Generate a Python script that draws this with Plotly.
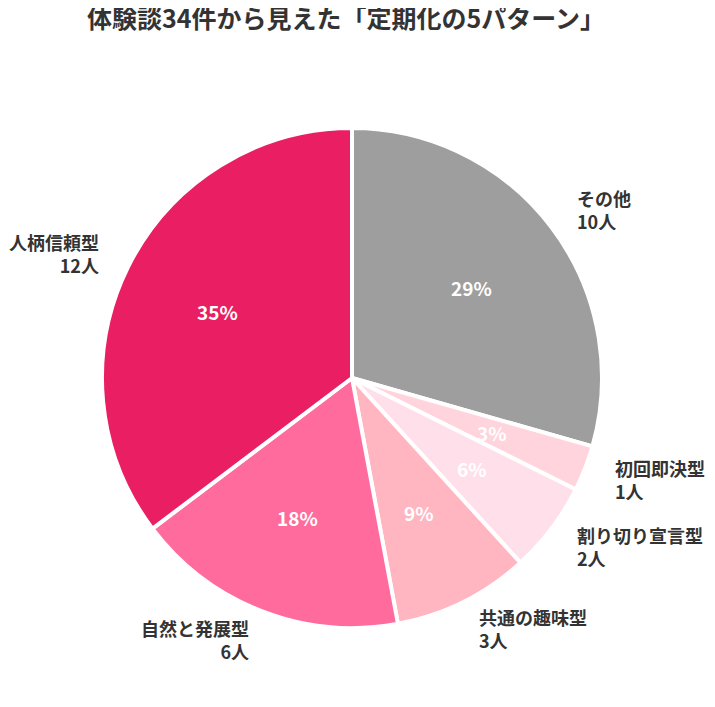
import math
import plotly.graph_objects as go

# パターン別の件数（体験談34件）
labels = ['その他', '初回即決型', '割り切り宣言型', '共通の趣味型', '自然と発展型', '人柄信頼型']
counts = [10, 1, 2, 3, 6, 12]
colors = ['#9E9E9E', '#FFD4DC', '#FFE0EA', '#FFB6C1', '#FF6B9D', '#E91E63']

title_text = '体験談34件から見えた「定期化の5パターン」'

FONT = 'Noto Sans CJK JP, Noto Sans, sans-serif'
W, H = 715, 707
# ページの余白(8px)の分だけずらしておく
cx, cy, r = 344, 370, 250

fig = go.Figure()

fig.add_trace(go.Pie(
    labels=labels, values=counts, sort=False, direction='clockwise',
    domain=dict(x=[(cx - r) / W, (cx + r) / W],
                y=[1 - (cy + r) / H, 1 - (cy - r) / H]),
    marker=dict(colors=colors, line=dict(color='white', width=4)),
    textinfo='none',
    hovertemplate='%{label}: %{value}人 (%{percent:.0%})<extra></extra>',
    showlegend=False,
))

# ラベル位置は各スライスの中央の角度から求める
total = sum(counts)
annotations = []
cum = 0
for name, v in zip(labels, counts):
    a = math.radians((cum + v / 2) / total * 360)
    cum += v
    sx, sy = math.sin(a), math.cos(a)

    # 内側の％
    px, py = cx + 0.6 * r * sx, cy - 0.6 * r * sy
    annotations.append(dict(
        x=px / W, y=1 - py / H, xref='paper', yref='paper',
        text='<b>{:.0f}%</b>'.format(v / total * 100), showarrow=False,
        xanchor='center', yanchor='middle',
        font=dict(family=FONT, size=19, color='white'),
    ))

    # 外側の名前と人数
    lx, ly = cx + (r + 30) * sx, cy - (r + 30) * sy
    side = 'left' if sx >= 0 else 'right'
    annotations.append(dict(
        x=lx / W, y=1 - ly / H, xref='paper', yref='paper',
        text='<b>{}<br>{}人</b>'.format(name, v), showarrow=False,
        xanchor=side, yanchor='middle', align=side,
        font=dict(family=FONT, size=18, color='#333333'),
    ))

fig.update_layout(
    width=W, height=H,
    margin=dict(l=0, r=0, t=0, b=0),
    paper_bgcolor='white',
    title=dict(text='<b>' + title_text + '</b>', x=338 / W, xanchor='center',
               y=1 - 2 / H, yanchor='top',
               font=dict(family=FONT, size=25, color='#333333')),
    annotations=annotations,
)

fig.write_html('out.html')
